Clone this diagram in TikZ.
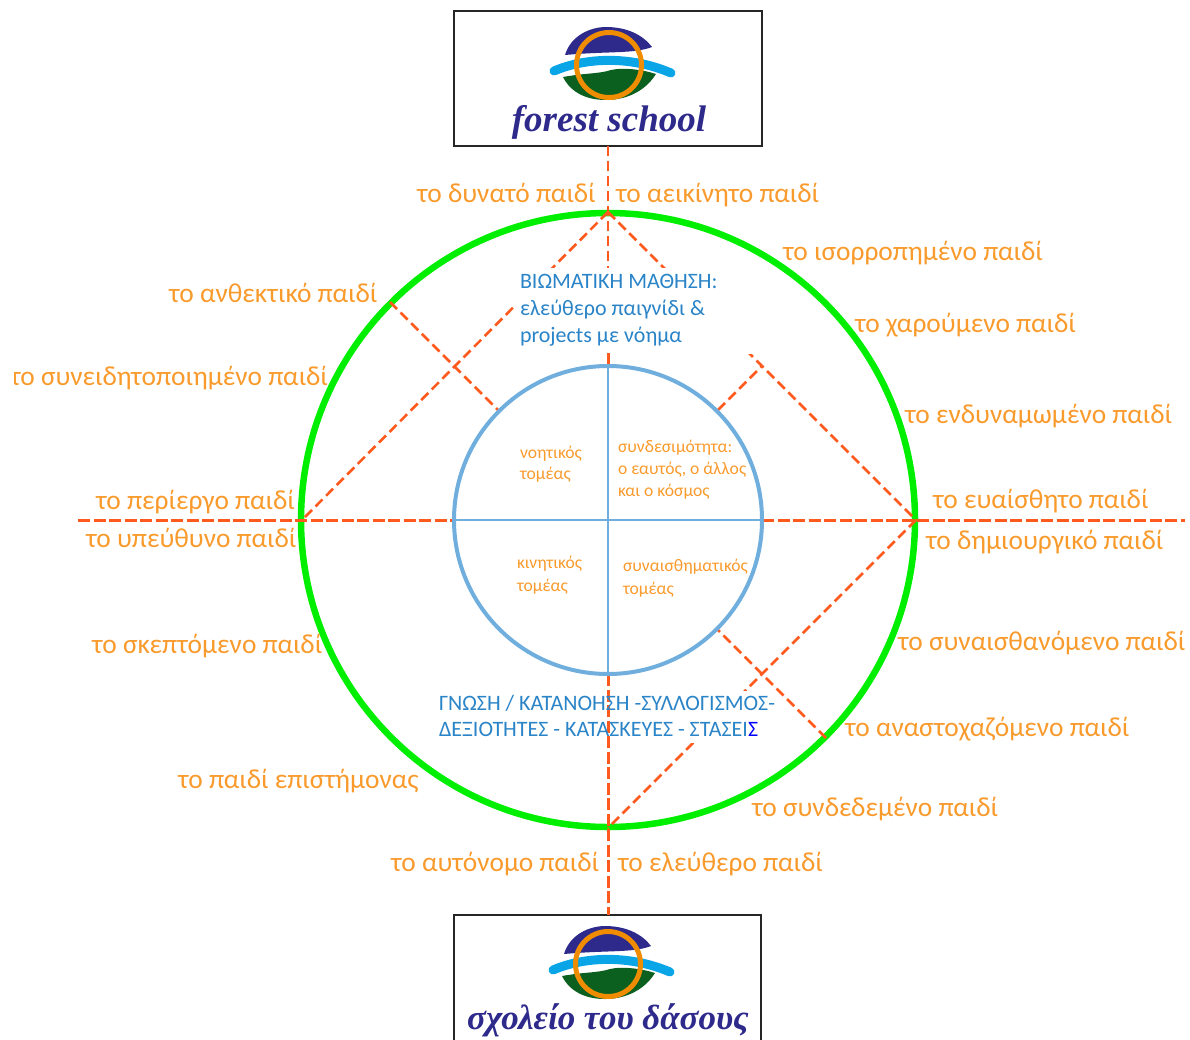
\documentclass[tikz,border=0pt]{standalone}
\usepackage{fontspec}
\setmainfont{Carlito}
\newfontfamily\logofont{Liberation Serif}
\definecolor{lab}{HTML}{F99A2C}
\definecolor{dash}{HTML}{FF5A1E}
\definecolor{ring}{HTML}{00EE00}
\definecolor{inner}{HTML}{6FAEDD}
\definecolor{btxt}{HTML}{2A84C8}
\definecolor{navy}{HTML}{2E2A8C}
\definecolor{sky}{HTML}{0AA5E6}
\definecolor{leaf}{HTML}{0B6020}
\definecolor{hoop}{HTML}{F08C00}
\tikzset{
  cn/.style={inner sep=0pt,outer sep=0pt,anchor=base west,yshift=-1pt,text=lab,font=\fontsize{27.4}{27.4}\selectfont},
  sm/.style={inner sep=0pt,outer sep=0pt,anchor=base west,text=lab,font=\fontsize{17.6}{17.6}\selectfont},
  bl/.style={inner sep=0pt,outer sep=0pt,anchor=base west,yshift=-0.5pt,text=btxt,font=\fontsize{22}{22}\selectfont},
  dl/.style={draw=dash,line width=2.6pt,dash pattern=on 10pt off 5pt},
  dlh/.style={draw=dash,line width=3pt,dash pattern=on 12pt off 3.5pt},
  mask/.style={fill=white,draw=none},
  frame/.style={draw=black!85,line width=1.3pt},
  logomark/.pic={
    \fill[navy] (-44,-10) .. controls (-38,-30) and (-18,-38) .. (-3,-38) .. controls (18,-38) and (34,-30) .. (43,-18) .. controls (25,-11) and (0,-14) .. (-44,-10) -- cycle;
    \fill[leaf] (-46,12) .. controls (-25,8) and (-10,9) .. (2,5) .. controls (15,2) and (35,5) .. (47,9) .. controls (35,28) and (15,35) .. (-3,35) .. controls (-22,35) and (-38,28) .. (-46,12) -- cycle;
    \fill[white] (-46,11) .. controls (-25,3) and (0,0) .. (24,1) .. controls (5,2) and (-20,9) .. (-46,11) -- cycle;
    \draw[sky,line width=9pt,line cap=round] (-55,6) .. controls (-25,-7) and (20,-10) .. (62,8);
    \draw[hoop,line width=5pt] (0,0) circle (32.5);
  }
}
\begin{document}
\begin{tikzpicture}[x=1pt,y=-1pt]
\useasboundingbox (0,0) rectangle (1190,1039);
% frames
\node[frame,minimum width=308pt,minimum height=135pt,inner sep=0pt] (topbox) at (608,78.5) {};
\coordinate (bl) at (454,1040);
\coordinate (br) at (761,1040);
\coordinate (tl) at (454,915);
\coordinate (tr) at (761,915);
\draw[frame] (bl) -- (tl) -- (tr) -- (br);
% geometry
\coordinate (c) at (608,520);
\coordinate (gN) at (608,212);
\coordinate (gS) at (608,828);
\coordinate (gW) at (302,520);
\coordinate (gE) at (916,520);
\coordinate (topEnd) at (608,146);
\coordinate (botEnd) at (608,915);
\coordinate (leftEnd) at (78,520);
\coordinate (rightEnd) at (1185,520);
\coordinate (iN) at (608,366);
\coordinate (iS) at (608,674);
\coordinate (iW) at (454,520);
\coordinate (iE) at (762,520);
\coordinate (iNE) at (718,410);
\coordinate (iNW) at (498,410);
\coordinate (iSE) at (718,630);
\coordinate (gNW) at (390,302);
\coordinate (gSE) at (826,738);
\coordinate (kneeNE) at (762,366);
% rings
\node[draw=ring,line width=6.5pt,circle,minimum size=614pt,inner sep=0pt] (outer) at (c) {};
% dashed lines
\draw[dl] (topEnd) -- (iN);
\draw[dl] (gN) -- (gW);
\draw[dl] (gN) -- (gE);
\draw[dl] (gE) -- (gS);
\draw[dl] (gNW) -- (iNW);
\draw[dl] (iNE) -- (kneeNE);
\draw[dlh] (leftEnd) -- (iW);
\draw[dlh] (iE) -- (rightEnd);
% masks behind the blue blocks
\fill[mask] (515,268) rectangle (752,354);
\fill[mask] (436,691) rectangle (782,743);
\draw[dl] (gSE) -- (iSE);
\draw[dlh] (iS) -- (botEnd);
\draw[dlh] (iN) ++(0,-13) -- (iN);
\node[draw=inner,line width=4pt,circle,minimum size=308pt,inner sep=0pt,fill=none] (innerc) at (c) {};
\draw[inner,line width=1.2pt] (iN) -- (iS);
\draw[inner,line width=1.2pt] (iW) -- (iE);
% logos
\pic at (609,65) {logomark};
\pic at (608,964) {logomark};
\node[inner sep=0pt,anchor=base,text=navy,font=\logofont\bfseries\itshape\fontsize{37}{37}\selectfont] (en) at (609,131) {forest school};
\node[inner sep=0pt,anchor=base,text=navy,font=\logofont\bfseries\itshape\fontsize{35}{35}\selectfont] (gr) at (608,1029) {σχολείο του δάσους};
% blue text
\node[bl] (b1) at (520,288) {ΒΙΩΜΑΤΙΚΗ ΜΑΘΗΣΗ:};
\node[bl] (b2) at (520,315) {ελεύθερο παιγνίδι \&};
\node[bl] (b3) at (520,342) {projects με νόημα};
\node[bl] (b4) at (439,710) {ΓΝΩΣΗ / ΚΑΤΑΝΟΗΣΗ -ΣΥΛΛΟΓΙΣΜΟΣ-};
\node[bl] (b5) at (439,736) {ΔΕΞΙΟΤΗΤΕΣ - ΚΑΤΑΣΚΕΥΕΣ - ΣΤΑΣΕΙ\textcolor{blue}{Σ}};
% inner labels
\node[sm] (s1) at (520,458) {νοητικός};
\node[sm] (s2) at (520,479) {τομέας};
\node[sm] (s3) at (618,452) {συνδεσιμότητα:};
\node[sm] (s4) at (618,474) {ο εαυτός, ο άλλος};
\node[sm] (s5) at (618,496) {και ο κόσμος};
\node[sm] (s6) at (517,568) {κινητικός};
\node[sm] (s7) at (517,591) {τομέας};
\node[sm] (s8) at (623,571) {συναισθηματικός};
\node[sm] (s9) at (623,594) {τομέας};
% outer labels
\node[cn] (l1) at (417,201) {το δυνατό παιδί};
\node[cn] (l2) at (616,201) {το αεικίνητο παιδί};
\node[cn] (l3) at (783,259) {το ισορροπημένο παιδί};
\node[cn] (l4) at (855,331) {το χαρούμενο παιδί};
\node[cn] (l5) at (905,422) {το ενδυναμωμένο παιδί};
\node[cn] (l6) at (933,507) {το ευαίσθητο παιδί};
\node[cn] (l7) at (926,548) {το δημιουργικό παιδί};
\node[cn] (l8) at (898,649) {το συναισθανόμενο παιδί};
\node[cn] (l9) at (845,735) {το αναστοχαζόμενο παιδί};
\node[cn] (l10) at (752,815) {το συνδεδεμένο παιδί};
\node[cn] (l11) at (618,870) {το ελεύθερο παιδί};
\node[cn] (l12) at (391,870) {το αυτόνομο παιδί};
\node[cn] (l13) at (178,787) {το παιδί επιστήμονας};
\node[cn] (l14) at (92,652) {το σκεπτόμενο παιδί};
\node[cn] (l15) at (86,546) {το υπεύθυνο παιδί};
\node[cn] (l16) at (96,508) {το περίεργο παιδί};
\node[cn] (l17) at (10,384) {το συνειδητοποιημένο παιδί};
\node[cn] (l18) at (169,301) {το ανθεκτικό παιδί};
\fill[white] (0,360) rectangle (14,395);
\end{tikzpicture}
\end{document}
